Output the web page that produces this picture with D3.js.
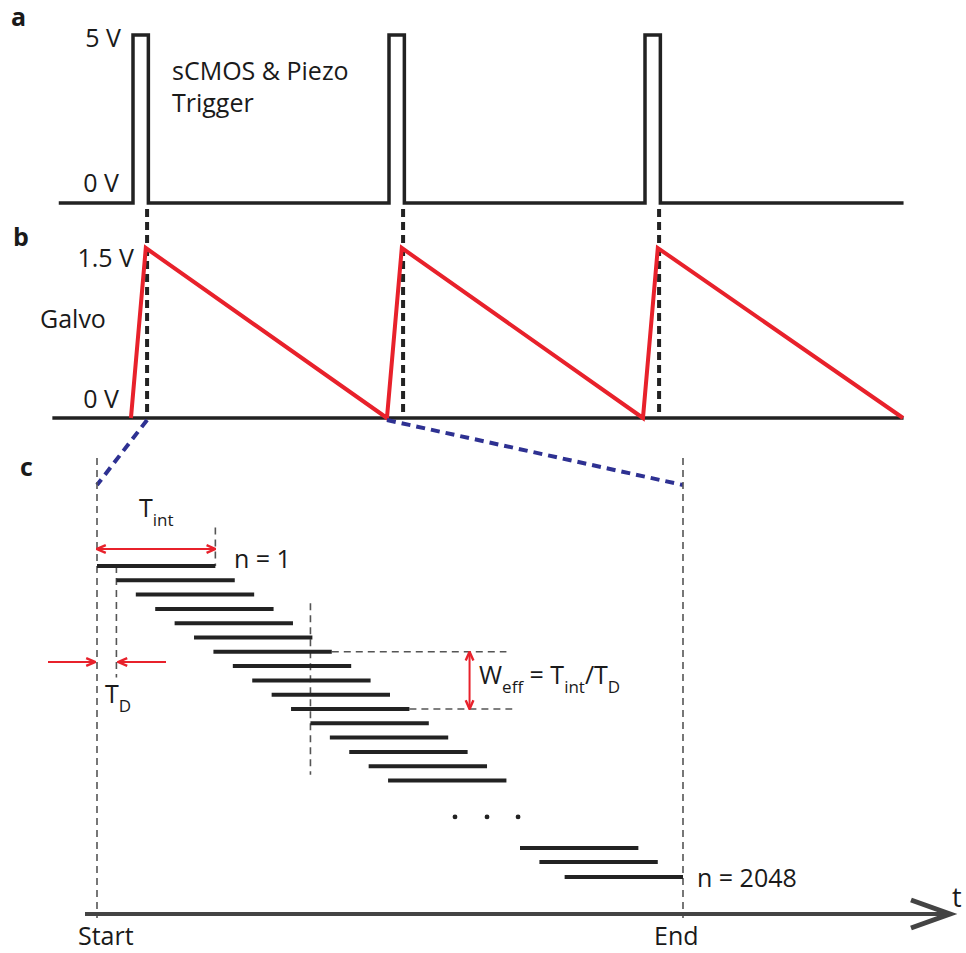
<!DOCTYPE html>
<html>
<head>
<meta charset="utf-8">
<script src="https://cdn.jsdelivr.net/npm/d3@7"></script>
<style>
  html, body { margin: 0; padding: 0; background: #fff; }
  svg { display: block; font-family: "Open Sans", "Noto Sans", sans-serif; }
  .lbl { font-size: 25px; fill: #1a1a1a; }
  .panel { font-size: 25px; font-weight: 700; fill: #1a1a1a; }
</style>
</head>
<body>
<svg id="chart" width="966" height="953"></svg>
<script>
// panels a & b: time in trigger periods
const pulseStarts = [0, 1, 2]
const pulseWidth = 0.06
const triggerRange = [-0.29, 3.01]
const galvoT = [-0.008, 0.05, 0.992, 1.05, 1.992, 2.05, 3.008]
const galvoV = [0, 1.5, 0, 1.5, 0, 1.5, 0]
const galvoRange = [-0.315, 3.01]
const syncT = [0.055, 1.055, 2.055]

// panel c: time in units of T_D, rows of the sensor
const rowStart = [0, 1, 2, 3, 4, 5, 6, 7, 8, 9, 10, 11, 12, 13, 14, 15, 21.8, 22.8, 24.1]
const rowIndex = [0, 1, 2, 3, 4, 5, 6, 7, 8, 9, 10, 11, 12, 13, 14, 15, 19.72, 20.7, 21.75]
const tInt = 6.1
const tEnd = 30.2
const dotT = [18.45, 20.1, 21.7]
const dotRow = 17.55
const weffRows = [6, 10]
const weffT = 19.2

const svg = d3.select('#chart')

const ink = '#222'
const red = '#e8212b'
const blue = '#2e3192'

// shared time scale for a & b
const x = d3.scaleLinear().domain([0, 1]).range([133, 389])
const yA = d3.scaleLinear().domain([0, 5]).range([203, 35])
const yB = d3.scaleLinear().domain([0, 1.5]).range([418, 248])

// panel c scales
const xC = d3.scaleLinear().domain([0, tEnd]).range([97, 683])
const yC = d3.scaleLinear().domain([0, 1]).range([566, 580.3])

// ----- panel a: trigger -----
const trig = [[triggerRange[0], 0]]
pulseStarts.forEach(p => {
    trig.push([p, 0], [p, 5], [p + pulseWidth, 5], [p + pulseWidth, 0])
})
trig.push([triggerRange[1], 0])

const lineA = d3.line().x(d => x(d[0])).y(d => yA(d[1]))
svg.append('path')
    .attr('d', lineA(trig))
    .attr('fill', 'none')
    .attr('stroke', ink)
    .attr('stroke-width', 3.5)
    .attr('stroke-linejoin', 'miter')

// ----- sync dashed lines -----
svg.append('g').selectAll('line')
    .data(syncT)
    .join('line')
    .attr('x1', d => x(d)).attr('x2', d => x(d))
    .attr('y1', yA(0) + 6).attr('y2', yB(0))
    .attr('stroke', ink)
    .attr('stroke-width', 4)
    .attr('stroke-dasharray', '8 5')

// ----- panel b: galvo -----
svg.append('line')
    .attr('x1', x(galvoRange[0])).attr('x2', x(galvoRange[1]))
    .attr('y1', yB(0)).attr('y2', yB(0))
    .attr('stroke', ink)
    .attr('stroke-width', 3.5)

const lineB = d3.line().x((d, i) => x(galvoT[i])).y(d => yB(d))
svg.append('path')
    .attr('d', lineB(galvoV))
    .attr('fill', 'none')
    .attr('stroke', red)
    .attr('stroke-width', 4)
    .attr('stroke-linejoin', 'miter')

// ----- zoom-in guide lines -----
const guides = [
    [[x(syncT[0]), yB(0) + 2], [xC(0), 485]],
    [[x(galvoT[2]), yB(0) + 2], [xC(tEnd), 485]]
]
svg.append('g').selectAll('line')
    .data(guides)
    .join('line')
    .attr('x1', d => d[0][0]).attr('y1', d => d[0][1])
    .attr('x2', d => d[1][0]).attr('y2', d => d[1][1])
    .attr('stroke', blue)
    .attr('stroke-width', 4)
    .attr('stroke-dasharray', '9 6')

// ----- panel c -----
const thinDash = (g, x1, y1, x2, y2) => g.append('line')
    .attr('x1', x1).attr('y1', y1).attr('x2', x2).attr('y2', y2)
    .attr('stroke', '#555')
    .attr('stroke-width', 1.6)
    .attr('stroke-dasharray', '7 5')

const gc = svg.append('g')
thinDash(gc, xC(0), 458, xC(0), 918)
thinDash(gc, xC(tEnd), 458, xC(tEnd), 918)
thinDash(gc, xC(1), yC(0), xC(1), yC(7.8))
thinDash(gc, xC(tInt), yC(-2.7), xC(tInt), yC(0))
thinDash(gc, xC(11), yC(2.6), xC(11), yC(14.6))
thinDash(gc, xC(weffRows[0] + tInt), yC(weffRows[0]), xC(21.1), yC(weffRows[0]))
thinDash(gc, xC(weffRows[1] + tInt), yC(weffRows[1]), xC(21.4), yC(weffRows[1]))

// exposure bars
gc.append('g').selectAll('line')
    .data(rowStart)
    .join('line')
    .attr('x1', d => xC(d))
    .attr('x2', d => xC(d + tInt))
    .attr('y1', (d, i) => yC(rowIndex[i]))
    .attr('y2', (d, i) => yC(rowIndex[i]))
    .attr('stroke', ink)
    .attr('stroke-width', 4)

gc.append('g').selectAll('circle')
    .data(dotT)
    .join('circle')
    .attr('cx', d => xC(d))
    .attr('cy', yC(dotRow))
    .attr('r', 2.4)
    .attr('fill', ink)

// red arrows
const defs = svg.append('defs')
defs.append('marker')
    .attr('id', 'ah')
    .attr('viewBox', '0 0 10 10')
    .attr('refX', 9).attr('refY', 5)
    .attr('markerWidth', 11).attr('markerHeight', 11)
    .attr('markerUnits', 'userSpaceOnUse')
    .attr('orient', 'auto-start-reverse')
    .append('path')
    .attr('d', 'M1,1.5 L9,5 L1,8.5')
    .attr('fill', 'none')
    .attr('stroke', red)
    .attr('stroke-width', 2.2)

const redArrow = (x1, y1, x2, y2, both) => {
    const l = svg.append('line')
        .attr('x1', x1).attr('y1', y1).attr('x2', x2).attr('y2', y2)
        .attr('stroke', red)
        .attr('stroke-width', 2)
        .attr('marker-end', 'url(#ah)')
    if (both) l.attr('marker-start', 'url(#ah)')
}
redArrow(xC(0), 549, xC(tInt), 549, true)
redArrow(48, 662, xC(0) - 2, 662)
redArrow(166, 662, xC(1) + 2, 662)
redArrow(xC(weffT), yC(weffRows[0]), xC(weffT), yC(weffRows[1]), true)

// time axis
svg.append('line')
    .attr('x1', 85).attr('x2', 948)
    .attr('y1', 914).attr('y2', 914)
    .attr('stroke', '#444')
    .attr('stroke-width', 4)
svg.append('path')
    .attr('d', 'M911,900 L950,914 L911,928')
    .attr('fill', 'none')
    .attr('stroke', '#444')
    .attr('stroke-width', 5)
    .attr('stroke-linejoin', 'miter')

// ----- text -----
const txt = (s, px, py, cls, anchor) => svg.append('text')
    .attr('x', px).attr('y', py)
    .attr('class', cls || 'lbl')
    .attr('text-anchor', anchor || 'start')
    .text(s)

txt('a', 11, 26, 'panel')
txt('b', 13, 246, 'panel')
txt('c', 20, 476, 'panel')

txt('5 V', 121, 47, 'lbl', 'end')
txt('0 V', 119, 192, 'lbl', 'end')
txt('sCMOS & Piezo', 172, 80)
txt('Trigger', 172, 112)

txt('1.5 V', 134, 267, 'lbl', 'end')
txt('Galvo', 40, 328)
txt('0 V', 119, 408, 'lbl', 'end')

const subSize = '17px'
const sub = (main, s, px, py) => {
    const t = svg.append('text').attr('x', px).attr('y', py).attr('class', 'lbl')
    t.append('tspan').text(main)
    t.append('tspan').attr('dy', 9).style('font-size', subSize).text(s)
    return t
}
sub('T', 'int', 139, 517)
sub('T', 'D', 105, 703)

const w = svg.append('text').attr('x', 479).attr('y', 684).attr('class', 'lbl')
w.append('tspan').text('W')
w.append('tspan').attr('dy', 9).style('font-size', subSize).text('eff')
w.append('tspan').attr('dy', -9).text(' = T')
w.append('tspan').attr('dy', 9).style('font-size', subSize).text('int')
w.append('tspan').attr('dy', -9).text('/T')
w.append('tspan').attr('dy', 9).style('font-size', subSize).text('D')

txt('n = 1', 234, 568)
txt('n = 2048', 697, 887)
txt('Start', 78, 945)
txt('End', 654, 945)
txt('t', 952, 907, 'lbl').style('font-size', '27px')
</script>
</body>
</html>
